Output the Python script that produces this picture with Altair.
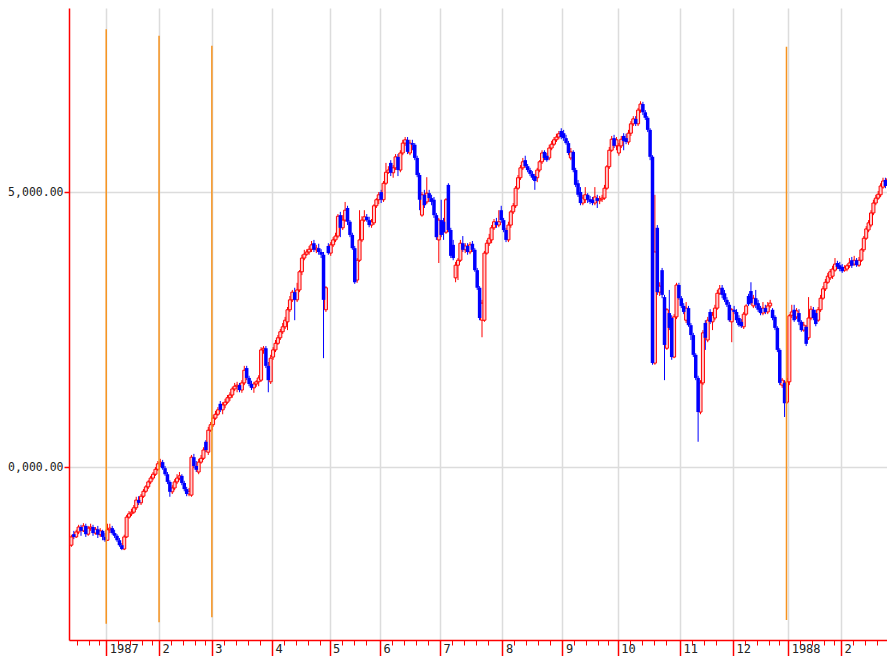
import altair as alt
import pandas as pd

# Daily candles (trading-day index)
open_ = [
    18580,18780,18730,18820,18910,18840,18930,18780,18890,18910,18800,18870,18770,18840,18730,
    18670,18860,18890,18800,18750,18670,18580,18510,18730,19090,19150,19180,19260,19400,19350,19470,19560,19640,19730,19800,19870,19960,
    20060,20090,19980,19870,19730,19550,19620,19730,19800,19840,19710,19600,19510,19490,20180,20020,19910,20090,20160,20460,20270,20670,
    20770,20890,20960,21150,21040,21130,21180,21260,21310,21420,21470,21490,21400,21530,21800,21620,21510,21440,21510,21550,21580,22130,22160,21840,21550,
    22000,22130,22250,22350,22460,22550,22640,22860,23040,23180,23040,23220,23550,23800,23870,23910,23960,24070,23950,23980,23910,23860,22860,24020,
    23890,24040,24130,24200,24580,24350,24490,24710,24460,24220,23980,23400,23760,24130,24490,24550,24490,24400,24440,24750,24860,
    25000,24860,25160,25360,25530,25350,25440,25640,25400,25710,25890,25950,25710,25890,25860,25620,25310,24580,24950,24820,24980,24890,24860,24580,24130,
    24490,24460,24270,25130,24310,24040,23440,23670,23760,24070,23950,24020,23910,24060,23950,23580,23260,22670,22670,23890,24070,24130,24350,24460,24400,24670,
    24490,24310,24130,24400,24640,24750,25070,25260,25440,25580,25470,25400,25330,25290,25260,25400,25550,25730,25660,25620,25800,25870,25950,26000,26110,
    26070,25980,25890,25620,25730,25400,25160,25000,24800,24860,24950,24870,24860,24800,24890,24840,24870,24890,25070,25460,25760,25980,25840,
    25710,25840,26020,25980,25910,26070,26240,26330,26240,26490,26600,26450,26350,26130,25640,21890,24350,23180,23580,23090,22160,22800,22710,22000,22730,23310,
    23070,22930,22670,22890,22580,22400,22040,21620,21000,21530,22620,22310,22820,22640,22710,22890,23160,23260,23160,23040,22950,22640,
    22860,22820,22710,22640,22550,22780,23110,23200,22930,23070,22980,22890,22800,22890,22820,22930,22860,22730,22530,22130,21490,21530,21180,
    21550,22760,22860,22730,22800,22640,22490,22550,22350,22710,22860,22800,22670,22860,23070,23240,23360,23440,23470,23580,23710,23670,
    23640,23580,23600,23660,23760,23690,23760,23670,23760,23950,24160,24310,24400,24620,24800,24890,24950,25090,25220,25150,25220,25310,25400,
]
high = [
    18770,18840,18860,18950,18950,18980,18970,18930,18970,18950,18910,18930,18890,18860,18800,
    18970,18970,18930,18860,18780,18710,18620,18770,19130,19200,19240,19310,19460,19470,19510,19600,19670,19760,19840,19910,20000,20110,
    20150,20130,20020,19910,19760,19670,19780,19870,19910,19870,19750,19640,19620,20220,20240,20110,20150,20220,20360,20490,20730,20820,
    20950,21020,21090,21200,21180,21240,21310,21360,21460,21530,21550,21530,21580,21840,21840,21660,21570,21550,21580,21670,22180,22200,22200,21910,22040,
    22180,22310,22400,22510,22620,22730,22910,23110,23220,23260,23350,23580,23860,23950,23960,24020,24110,24130,24040,24060,23960,23910,23290,24070,
    24090,24180,24260,24600,24640,24580,24820,24750,24490,24260,24020,23800,24670,24560,24670,24600,24550,24510,24780,24890,25000,
    25040,25200,25530,25470,25580,25490,25690,25690,25760,25950,26000,26000,25950,25950,25890,25660,25350,25000,25040,25270,25040,24950,24910,24620,24530,
    24860,24530,24890,25160,24350,24130,23730,23800,24130,24200,24070,24070,24090,24110,23980,23620,23290,23040,23930,24130,24240,24400,24510,24530,24670,24750,
    24530,24350,24460,24670,24800,25110,25310,25490,25620,25660,25510,25440,25380,25330,25440,25580,25760,25760,25710,25860,25930,26000,26060,26110,26160,
    26130,26040,25930,25800,25760,25440,25220,25090,24950,25090,24980,24930,24910,25090,24950,24930,24950,25130,25490,25820,26020,26040,26000,
    25890,26020,26070,26060,26130,26290,26380,26380,26530,26650,26640,26490,26380,26160,25670,24950,24400,23360,23620,23130,22890,23220,22760,22780,23350,23350,
    23110,22980,23000,22930,22620,22440,22070,21660,21580,22490,22670,22730,22870,22820,22950,23220,23310,23310,23220,23090,23000,22890,
    22930,22870,22760,22690,22820,22960,23150,23360,23130,23220,23040,22930,23000,22950,23000,23040,22890,22760,22560,22160,21620,21580,21620,
    22780,22950,22950,22890,22870,22670,22640,22580,23090,22930,22910,22860,22910,23130,23290,23420,23530,23600,23660,23800,23750,23730,
    23690,23670,23690,23800,23820,23840,23800,23820,23980,24200,24380,24490,24670,24860,24950,25020,25160,25260,25260,25290,25360,25440,25490,
]
low = [
    18550,18690,18710,18780,18750,18820,18730,18750,18840,18750,18770,18710,18730,18670,18640,
    18660,18800,18770,18710,18640,18550,18490,18490,18710,19060,19110,19150,19220,19310,19310,19440,19530,19600,19690,19760,19840,19930,
    20000,19950,19840,19690,19460,19510,19580,19690,19760,19670,19560,19470,19470,19460,19980,19910,19870,20060,20130,20270,20220,20640,
    20730,20860,20930,21000,20960,21070,21150,21200,21260,21380,21360,21360,21350,21490,21580,21470,21400,21350,21460,21470,21550,22060,21800,21360,21510,
    21950,22090,22220,22310,22420,22510,22490,22820,23000,22670,23000,23180,23490,23760,23840,23860,23910,23910,23890,23860,23800,21980,22820,23860,
    23840,24000,24090,24160,24180,24310,24460,24400,24180,23950,23330,23350,23730,24090,24460,24460,24360,24350,24400,24710,24780,
    24800,24820,25130,25330,25290,25260,25400,25290,25360,25670,25840,25690,25670,25760,25580,25270,24670,24550,24710,24780,24820,24760,24530,24130,23710,
    24180,24130,24240,24270,23800,23760,23360,23400,23730,23910,23890,23860,23870,23910,23550,23220,22670,22360,22640,23860,24020,24070,24310,24350,24360,24440,
    24270,24090,24090,24350,24600,24710,25040,25220,25400,25440,25360,25290,25220,25040,25180,25360,25510,25580,25550,25580,25760,25840,25910,25960,25960,
    25930,25860,25670,25580,25360,25090,24910,24760,24760,24800,24800,24780,24760,24760,24710,24780,24820,24860,25040,25420,25730,25800,25760,
    25660,25800,25760,25870,25860,26020,26200,26200,26200,26440,26400,26310,26090,25580,21860,21860,23130,23110,23070,21580,22130,22490,21950,21980,22690,23040,
    22890,22780,22620,22550,22310,22000,21580,20460,20960,21490,22130,22270,22600,22490,22670,22860,23130,23070,23000,22910,22640,22270,
    22780,22620,22550,22530,22510,22750,22930,22950,22890,22890,22820,22760,22760,22780,22780,22890,22670,22490,22090,21490,21440,20910,21150,
    21490,22710,22640,22690,22580,22460,22460,22200,22310,22670,22670,22560,22640,22820,23040,23200,23330,23400,23420,23550,23600,23560,
    23530,23550,23560,23620,23620,23660,23640,23640,23730,23910,24130,24270,24360,24580,24760,24860,24910,25060,25070,25110,25180,25270,25360,
]
close = [
    18730,18730,18820,18910,18840,18930,18780,18890,18910,18800,18870,18770,18840,18730,18670,
    18860,18890,18800,18750,18670,18580,18510,18730,19090,19150,19180,19260,19400,19350,19470,19560,19640,19730,19800,19870,19960,20060,
    20090,19980,19870,19730,19550,19620,19730,19800,19840,19710,19600,19510,19560,20180,20020,19950,20090,20160,20310,20310,20670,20770,
    20890,20960,21040,21040,21130,21180,21260,21310,21420,21470,21490,21400,21530,21760,21620,21510,21440,21510,21550,21620,22130,22160,21840,21580,21980,
    22130,22250,22350,22460,22550,22670,22860,23040,23180,23040,23220,23550,23800,23870,23910,23960,24040,23950,23980,23910,23860,23040,23260,23890,
    24040,24130,24200,24560,24350,24490,24670,24460,24220,23980,23360,23760,24130,24490,24550,24490,24400,24460,24750,24860,24950,
    24860,25160,25360,25400,25350,25440,25640,25400,25710,25890,25950,25730,25890,25860,25620,25310,24860,24950,24760,24980,24890,24820,24580,24180,24490,
    24220,24270,24860,24310,23840,23800,23670,23760,24070,23950,24020,23910,24040,23950,23580,23260,22710,22980,23890,24070,24160,24350,24460,24400,24460,24490,
    24310,24130,24400,24640,24750,25070,25260,25440,25550,25470,25400,25330,25260,25200,25400,25550,25710,25620,25580,25800,25870,25950,26000,26060,26000,
    25980,25890,25710,25730,25400,25130,24950,24800,24890,24950,24860,24820,24800,24910,24840,24870,24890,25070,25460,25760,25960,25840,25950,
    25840,25960,25930,25910,26070,26240,26330,26240,26490,26600,26450,26350,26130,25640,21890,23910,23180,23290,23130,22220,22860,22530,22000,22730,23310,23070,
    22930,22820,22890,22580,22400,22040,21620,21000,21530,22440,22350,22670,22640,22760,22890,23160,23240,23130,23040,22950,22670,22860,
    22820,22670,22580,22560,22780,22930,22960,22980,23070,22950,22860,22800,22890,22820,22930,22980,22710,22530,22130,21530,21580,21160,21550,
    22750,22820,22670,22840,22640,22490,22580,22240,22710,22870,22710,22600,22860,23070,23240,23360,23470,23550,23600,23690,23640,23600,
    23560,23620,23660,23710,23660,23760,23670,23760,23950,24160,24330,24440,24620,24800,24890,24960,25110,25200,25110,25240,25310,25400,25460,
]

# Axis tick values and labels
month_starts = [14.5, 36.5, 58.5, 83.5, 107.5, 128.5, 153.5, 179.5, 204.5, 227.5, 253.5, 275.5, 298.5, 320.5]
month_labels = ["1987", "2", "3", "4", "5", "6", "7", "8", "9", "10", "11", "12", "1988", "2"]
minor_ticks = [2.5, 7.5, 11.5, 19.5, 24.5, 29.5, 33.5, 41.5, 46.5, 51.5, 55.5, 63.5, 68.5, 73.5, 78.5,
               88.5, 93.5, 98.5, 103.5, 112.5, 117.5, 122.5, 133.5, 138.5, 143.5, 148.5, 158.5, 163.5,
               168.5, 173.5, 184.5, 189.5, 194.5, 199.5, 209.5, 214.5, 219.5, 223.5, 232.5, 237.5, 242.5,
               247.5, 258.5, 263.5, 268.5, 280.5, 285.5, 290.5, 294.5, 303.5, 308.5, 313.5, 317.5, 325.5,
               330.5, 335.5]
price_ticks = [20000, 25000]
price_labels = ["0,000.00", "5,000.00"]

# Orange vertical markers
marker_x = [14.5, 36.5, 58.5, 297.8]
marker_top = [27960, 27840, 27660, 27640]
marker_bottom = [17150, 17180, 17270, 17220]

n = len(open_)
df = pd.DataFrame({"day": list(range(n)), "open": open_, "high": high, "low": low, "close": close})
df["dir"] = ["up" if c >= o else "down" for o, c in zip(open_, close)]
mk = pd.DataFrame({"x": marker_x, "top": marker_top, "bottom": marker_bottom})

RED = "#ff0000"
BLUE = "#0000ff"
GRID = "#dcdcdc"
FONT = "DejaVu Sans Mono"

xscale = alt.Scale(domain=[-1, 339.66], nice=False, zero=False, padding=0)
yscale = alt.Scale(domain=[16856, 28346], nice=False, zero=False, padding=0)

month_expr = ("[" + ",".join("'%s'" % s for s in month_labels) + "][indexof(["
              + ",".join(str(v) for v in month_starts) + "], datum.value)]")
price_expr = ("[" + ",".join("'%s'" % s for s in price_labels) + "][indexof(["
              + ",".join(str(v) for v in price_ticks) + "], datum.value)]")

major_axis = alt.Axis(orient="bottom", values=month_starts, labelExpr=month_expr, title=None,
                      tickSize=16, tickColor=RED, tickWidth=1.5, domain=False,
                      grid=True, gridColor=GRID, gridWidth=1.5,
                      labelAlign="left", labelBaseline="top", labelPadding=-13, labelOffset=3,
                      labelFont=FONT, labelFontSize=12, labelColor="#222222",
                      labelOverlap=False, labelFlush=False)
minor_axis = alt.Axis(orient="bottom", values=minor_ticks, labels=False, title=None,
                      tickSize=5, tickColor=RED, tickWidth=1, domain=True,
                      domainColor=RED, domainWidth=1.5, grid=False)
y_axis = alt.Axis(orient="left", values=price_ticks, labelExpr=price_expr, title=None,
                  tickSize=5, tickColor=RED, tickWidth=1.5, domainColor=RED, domainWidth=1.5,
                  grid=True, gridColor=GRID, gridWidth=1.5,
                  labelFont=FONT, labelFontSize=11.5, labelColor="#222222", labelPadding=1)

base = alt.Chart(df)

wicks = base.mark_rule(strokeWidth=1, clip=True).encode(
    x=alt.X("day:Q", scale=xscale, axis=minor_axis),
    y=alt.Y("low:Q", scale=yscale, axis=y_axis),
    y2="high:Q",
    color=alt.Color("dir:N", scale=alt.Scale(domain=["up", "down"], range=[RED, BLUE]), legend=None),
)

up_bodies = base.transform_filter(alt.datum.dir == "up").mark_bar(
    size=3, fill="#ffcccc", stroke=RED, strokeWidth=1, clip=True
).encode(
    x=alt.X("day:Q", scale=xscale, axis=major_axis),
    y=alt.Y("open:Q", scale=yscale, axis=y_axis),
    y2="close:Q",
)

down_bodies = base.transform_filter(alt.datum.dir == "down").mark_bar(
    size=3.5, fill=BLUE, strokeWidth=0, clip=True
).encode(
    x=alt.X("day:Q", scale=xscale, axis=None),
    y=alt.Y("open:Q", scale=yscale, axis=y_axis),
    y2="close:Q",
)

markers = alt.Chart(mk).mark_rule(color="#f7931e", strokeWidth=1.5).encode(
    x=alt.X("x:Q", scale=xscale, axis=None),
    y=alt.Y("top:Q", scale=yscale, axis=y_axis),
    y2="bottom:Q",
)

chart = alt.layer(wicks, up_bodies, down_bodies, markers).resolve_axis(
    x="independent"
).properties(
    width=818, height=632,
    autosize=alt.AutoSizeParams(type="none"),
    padding={"left": 61, "top": 0, "right": 0, "bottom": 16},
    background="white",
).configure_view(stroke=None)

chart.save("out.html", embed_options={"renderer": "svg", "actions": False})
